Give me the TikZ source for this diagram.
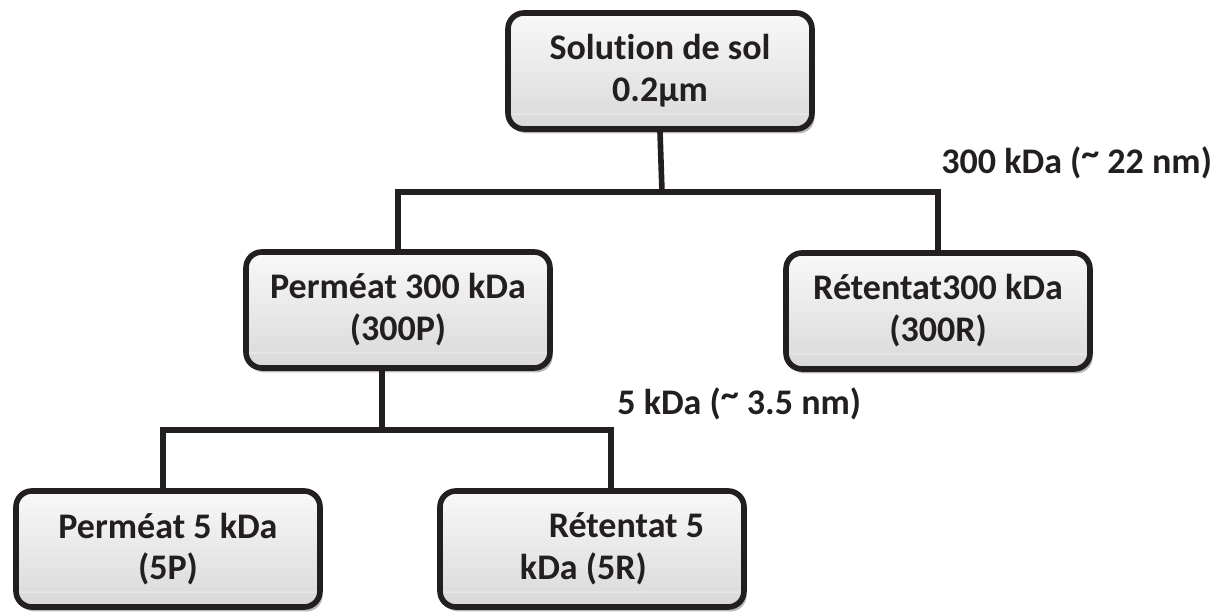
\documentclass[tikz,border=0pt]{standalone}
\usepackage{fontspec}
\setmainfont{Carlito}[Ligatures=NoCommon]
\usepackage{xcolor}
\usetikzlibrary{shadows}
\definecolor{ink}{HTML}{231F20}

\begin{document}
\begin{tikzpicture}[x=0.02cm,y=-0.02cm,
    box/.style={draw=ink,line width=3.2pt,rounded corners=9pt,
        top color=gray!5,bottom color=gray!30,
        minimum width=6.08cm,minimum height=2.32cm,
        align=center,text=ink,font=\fontsize{20.5}{23.8}\selectfont\bfseries,
        path picture={\draw[white!80!gray,line width=0.8pt]
            ([yshift=0.3cm]path picture bounding box.south west) --
            ([yshift=0.3cm]path picture bounding box.south east);},
        drop shadow={shadow xshift=1.5pt,shadow yshift=-2.5pt,fill=gray!70,opacity=0.8}},
    lbl/.style={text=ink,font=\fontsize{20.5}{23.8}\selectfont\bfseries,inner sep=0pt},
    link/.style={draw=ink,line width=3.2pt}]
    \newcommand{\tld}{\raisebox{0.45ex}{\textasciitilde}}
    \useasboundingbox (0,0) rectangle (1230,614);
    \node[box] (sol) at (660,71) {Solut\kern0pt ion de sol\\0.2µm};
    \node[box] (p300) at (398,310) {Perméat 300 kDa\\(300P)};
    \node[box] (r300) at (938,311) {Rétentat300 kDa\\(300R)};
    \node[box] (p5) at (168,549) {Perméat 5 kDa\\(5P)};
    \node[box] (r5) at (592,549) {};
    \node[lbl,align=left] (r5txt) at (612,549) {\hspace*{0.8em}Rétentat 5\\kDa (5R)};
    \coordinate (j1) at (662,192);
    \coordinate (j2) at (382,430);
    \draw[link] (sol.south) -- (j1);
    \draw[link] (p300.north) |- (j1) -| (r300.north);
    \draw[link] (j2 |- p300.south) -- (j2);
    \draw[link] ([xshift=-0.1cm]p5.north) |- (j2) -| ([xshift=0.38cm]r5.north);
    \node[lbl,anchor=west] (cut300) at (941,163) {300 kDa (\tld\ 22 nm)};
    \node[lbl,anchor=west] (cut5) at (617,404) {5 kDa (\tld\ 3.5 nm)};
\end{tikzpicture}
\end{document}
